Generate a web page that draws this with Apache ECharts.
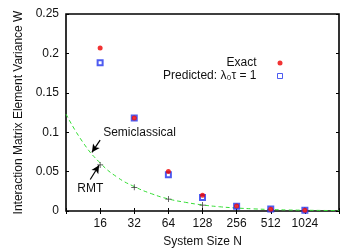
<!DOCTYPE html>
<html><head><meta charset="utf-8">
<script src="https://cdn.jsdelivr.net/npm/echarts@6/dist/echarts.min.js"></script>
<style>html,body{margin:0;padding:0;background:#fff}#c{width:357px;height:250px}</style>
</head><body><div id="c"></div>
<script>
var sizes = [16, 32, 64, 128, 256, 512, 1024];
var exact = [0.207, 0.118, 0.050, 0.020, 0.0065, 0.0022, 0.0010];
var predicted = [0.188, 0.118, 0.046, 0.017, 0.0060, 0.0025, 0.0008];
var rmt = [0.0585, 0.030, 0.0152, 0.0075, 0.0037, 0.0018, 0.0009];
var semiN = [8, 11.3, 16, 22.6, 32, 45.3, 64, 90.5, 128, 181, 256, 362, 512, 724, 1024, 1448, 2048];
var semiW = [0.123, 0.087, 0.061, 0.043, 0.031, 0.022, 0.0153, 0.011, 0.0077, 0.0054, 0.0038, 0.0027, 0.0019, 0.0013, 0.0010, 0.0007, 0.0005];
var FONT = 'Liberation Sans';

function pts(ns, ws){ return ns.map(function(n,i){ return [Math.log2(n), ws[i]]; }); }
var plusPath = 'path://M-0.12,-1H0.12V-0.12H1V0.12H0.12V1H-0.12V0.12H-1V-0.12H-0.12Z';

var chart = echarts.init(document.getElementById('c'), null, {renderer:'canvas'});
chart.setOption({
  animation:false,
  grid:{left:66, right:18, top:14, bottom:39, show:true, borderColor:'#000', borderWidth:1.6,
        containLabel:false, outerBoundsMode:'none'},
  legend:{
    orient:'vertical', right:69, top:52, align:'right', itemGap:1,
    itemWidth:5, itemHeight:5,
    textStyle:{fontFamily:FONT, fontSize:12, color:'#111', padding:[0,16,0,0]},
    data:[
      {name:'Exact', icon:'circle', itemStyle:{color:'#ee0000', borderWidth:0}},
      {name:'Predicted: λ₀τ = 1', icon:'rect', itemStyle:{color:'#fff', borderColor:'#2233ee', borderWidth:1}}
    ]
  },
  xAxis:[{
    type:'value', min:3, max:11, interval:1, position:'bottom',
    name:'System Size N', nameLocation:'middle', nameGap:25,
    nameTextStyle:{fontFamily:FONT, fontSize:12, color:'#111'},
    axisLine:{show:false}, splitLine:{show:false},
    axisTick:{show:true, inside:true, length:3, lineStyle:{color:'#000'}},
    axisLabel:{fontFamily:FONT, fontSize:12, color:'#111', margin:7,
      formatter:function(v){ return (v<=3||v>=11)?'':String(Math.round(Math.pow(2,v))); }}
  },{
    type:'value', min:3, max:11, interval:1, position:'top',
    axisLine:{show:false}, splitLine:{show:false}, axisLabel:{show:false},
    axisTick:{show:true, inside:true, length:3, lineStyle:{color:'#000'}}
  }],
  yAxis:[{
    type:'value', min:0, max:0.25, interval:0.05, position:'left',
    name:'Interaction Matrix Element Variance W', nameLocation:'middle', nameGap:40,
    nameTextStyle:{fontFamily:FONT, fontSize:12, color:'#111'},
    axisLine:{show:false}, splitLine:{show:false},
    axisTick:{show:true, inside:true, length:3, lineStyle:{color:'#000'}},
    axisLabel:{fontFamily:FONT, fontSize:12, color:'#111', margin:7,
      formatter:function(v){ return String(+v.toFixed(2)); }}
  },{
    type:'value', min:0, max:0.25, interval:0.05, position:'right',
    axisLine:{show:false}, splitLine:{show:false}, axisLabel:{show:false},
    axisTick:{show:true, inside:true, length:3, lineStyle:{color:'#000'}}
  }],
  series:[
    {name:'Semiclassical', type:'line', data:pts(semiN, semiW), smooth:true, showSymbol:false, symbol:'none',
     lineStyle:{color:'#33dd33', width:1, type:[4,3]}, z:2,
     markLine:{silent:true, symbol:['none','arrow'], symbolSize:[6,8], label:{show:false},
       lineStyle:{color:'#000', width:1.2, type:'solid'},
       data:[
         [{coord:[4.0, 0.090]},{coord:[3.76, 0.0745]}],
         [{coord:[3.71, 0.040]},{coord:[3.97, 0.058]}]
       ]},
     markPoint:{silent:true, symbol:'circle', symbolSize:0,
       label:{show:true, fontFamily:FONT, fontSize:12, color:'#111'},
       data:[
         {coord:[4.09, 0.0995], label:{formatter:'Semiclassical', position:'right', distance:0}},
         {coord:[3.33, 0.028], label:{formatter:'RMT', position:'right', distance:0}}
       ]}
    },
    {name:'RMT', type:'scatter', data:pts(sizes, rmt), symbol:plusPath, symbolSize:6,
     itemStyle:{color:'#000'}, z:3},
    {name:'Predicted: λ₀τ = 1', type:'scatter', data:pts(sizes, predicted), symbol:'emptyRect', symbolSize:5,
     itemStyle:{color:'#2233ee', borderColor:'#2233ee', borderWidth:1}, z:4},
    {name:'Exact', type:'scatter', data:pts(sizes, exact), symbol:'circle', symbolSize:5,
     itemStyle:{color:'#ee0000'}, z:5}
  ]
});
</script></body></html>
